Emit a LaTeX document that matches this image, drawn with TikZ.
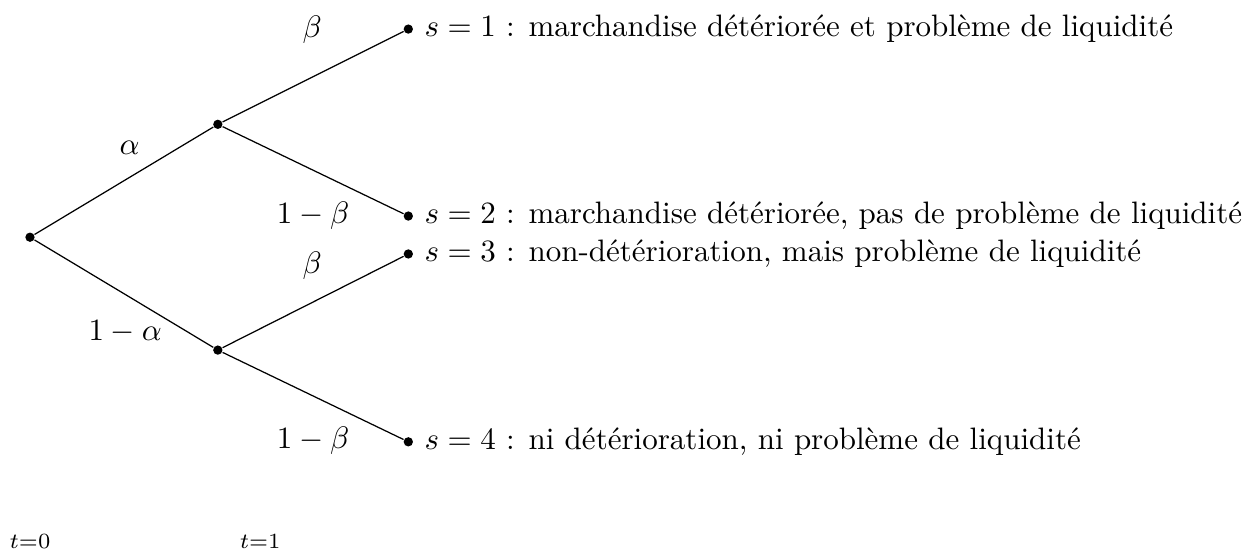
\documentclass[tikz,border=0pt]{standalone}
\usepackage{amsmath}
\usepackage{fontspec}
\usetikzlibrary{positioning}

\begin{document}
\begin{tikzpicture}
  \useasboundingbox (-0.34,-3.53) rectangle (13.80,2.69);
  \tikzset{dot/.style={circle,fill,inner sep=0pt,minimum size=3pt}}
  % noeuds de l'arbre
  \node[dot] (r) at (0,0) {};
  \node[dot] (m1) at (2.13,1.28) {};
  \node[dot] (m2) at (2.13,-1.28) {};
  \node[dot] (f1) at (4.29,2.36) {};
  \node[dot] (f2) at (4.29,0.24) {};
  \node[dot] (f3) at (4.29,-0.19) {};
  \node[dot] (f4) at (4.29,-2.32) {};
  \draw (r) -- (m1);
  \draw (r) -- (m2);
  \draw (m1) -- (f1);
  \draw (m1) -- (f2);
  \draw (m2) -- (f3);
  \draw (m2) -- (f4);
  % probabilites
  \node (la) at (1.13,1.01) {$\alpha$};
  \node (lna) at (1.08,-1.07) {$1-\alpha$};
  \node (lb1) at (3.20,2.35) {$\beta$};
  \node (lnb1) at (3.21,0.24) {$1-\beta$};
  \node (lb2) at (3.20,-0.32) {$\beta$};
  \node (lnb2) at (3.21,-2.31) {$1-\beta$};
  % etats
  \node[right=0pt of f1] (e1) {$s=1$ : marchandise détériorée et problème de liquidité};
  \node[right=0pt of f2] (e2) {$s=2$ : marchandise détériorée, pas de problème de liquidité};
  \node[right=0pt of f3] (e3) {$s=3$ : non-détérioration, mais problème de liquidité};
  \node[right=0pt of f4] (e4) {$s=4$ : ni détérioration, ni problème de liquidité};
  % dates
  \node[font=\scriptsize] (t0) at (0,-3.45) {$t{=}0$};
  \node[font=\scriptsize] (t1) at (2.61,-3.45) {$t{=}1$};
\end{tikzpicture}
\end{document}
